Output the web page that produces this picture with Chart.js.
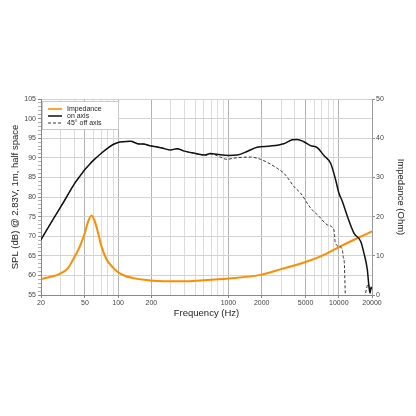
<!DOCTYPE html>
<html><head><meta charset="utf-8">
<script src="https://cdn.jsdelivr.net/npm/chart.js@4.4.1/dist/chart.umd.min.js"></script>
<style>html,body{margin:0;padding:0;background:#fff;}canvas{display:block;}</style>
</head><body>
<canvas id="c" width="416" height="416"></canvas>
<script>
const xGridValues = [20,30,40,50,60,70,80,90,100,200,300,400,500,600,700,800,900,1000,2000,3000,4000,5000,6000,7000,8000,9000,10000,20000];
const xTickLabels = [20,50,100,200,1000,2000,5000,10000,20000];
const splTickLabels = [55,60,65,70,75,80,85,90,95,100,105];
const ohmTickLabels = [0,10,20,30,40,50];
const seriesNames = ['Impedance','on axis','45° off axis'];

const impFreq = [20,25,29.6,35,39,45,49.9,53.5,57.4,61.5,65.9,70.6,78.9,90,97.9,115,137,180,224,300,400,554,1000,2000,3000,5000,7000,10000,15000,20000];
const impOhm  = [4.1,4.7,5.4,6.8,9.0,12.4,15.8,18.8,20.3,18.8,15.8,12.4,9.0,7.0,6.0,4.9,4.3,3.8,3.6,3.5,3.5,3.7,4.2,5.2,6.6,8.4,10.0,12.2,14.6,16.2];

const onFreq = [20,25,33,40,45,50,55,60,70,80,90,100,110,130,150,170,194,250,296,340,400,482,615,684,787,1000,1194,1472,1816,2399,3170,3780,4190,4820,5550,6380,7330,8430,9360,10020,10760,11950,13720,15770,16900,18130,18770,19200,19600,20000];
const onSpl  = [69.1,73.7,79.3,83.3,85.3,87.0,88.3,89.4,91.1,92.4,93.4,93.9,94.1,94.2,93.6,93.5,93.1,92.5,92.0,92.3,91.7,91.2,90.7,91.1,90.9,90.6,90.7,91.6,92.7,93.0,93.6,94.6,94.7,94.1,93.1,92.6,90.6,88.6,84.4,81.0,78.9,75.1,70.8,68.7,65.7,61.5,57.2,55.5,57.0,56.5];

const offFreq = [20,25,33,40,45,50,55,60,70,80,90,100,110,130,150,170,194,250,296,340,400,482,615,684,730,843,970,1112,1300,1577,1955,2399,2800,3170,3500,3910,4500,5550,6600,7860,9030,9150,9250,10020,10760,11000,11200,11450,11550,14000,16900,17500,18500,19000];
const offSpl  = [69.1,73.7,79.3,83.3,85.3,87.0,88.3,89.4,91.1,92.4,93.4,93.9,94.1,94.2,93.6,93.5,93.1,92.5,92.0,92.3,91.7,91.2,90.7,91.0,90.9,90.2,89.6,89.9,90.1,90.2,89.6,88.4,87.2,86.1,84.6,82.7,81.0,77.2,75.1,72.9,71.6,70.5,68.7,67.4,66.6,64.5,63.5,55,50,null,53,55.5,57.8,56.5];

const FONT = 'Liberation Sans, Arial, sans-serif';
const toPts = (xs, ys) => xs.map((x, i) => ({x: x, y: ys[i]}));

const boxLegend = {
  id: 'boxLegend',
  afterDatasetsDraw(chart) {
    const ctx = chart.ctx, a = chart.chartArea;
    const x0 = a.left + 1, y0 = a.top + 2, w = 76, h = 28;
    ctx.save();
    ctx.fillStyle = '#fff';
    ctx.fillRect(x0, y0, w, h);
    ctx.strokeStyle = '#c8c8c8';
    ctx.lineWidth = 1;
    ctx.strokeRect(x0 + 0.5, y0 + 0.5, w, h);
    chart.data.datasets.forEach((ds, i) => {
      const y = y0 + 8 + i * 7;
      ctx.strokeStyle = ds.borderColor;
      ctx.lineWidth = Math.min(ds.borderWidth, 1.6);
      ctx.setLineDash(ds.borderDash || []);
      ctx.beginPath(); ctx.moveTo(x0 + 6, y); ctx.lineTo(x0 + 20, y); ctx.stroke();
      ctx.setLineDash([]);
      ctx.fillStyle = '#222';
      ctx.font = '7px ' + FONT;
      ctx.textBaseline = 'middle';
      ctx.fillText(ds.label, x0 + 25, y + 0.5);
    });
    ctx.restore();
  }
};

new Chart(document.getElementById('c'), {
  type: 'line',
  data: { datasets: [
    { label: seriesNames[0], data: toPts(impFreq, impOhm), yAxisID: 'y2', order: 3,
      borderColor: '#ff8c00', borderWidth: 2, pointRadius: 0, cubicInterpolationMode: 'monotone' },
    { label: seriesNames[1], data: toPts(onFreq, onSpl), yAxisID: 'y', order: 1,
      borderColor: '#111111', borderWidth: 1.5, pointRadius: 0, cubicInterpolationMode: 'monotone' },
    { label: seriesNames[2], data: toPts(offFreq, offSpl), yAxisID: 'y', order: 2, spanGaps: false,
      borderColor: '#333333', borderWidth: 1, borderDash: [3, 2], pointRadius: 0, cubicInterpolationMode: 'monotone' }
  ]},
  options: {
    responsive: false, animation: false, devicePixelRatio: 1,
    layout: { padding: { top: 99, left: 0, right: 0, bottom: 0 } },
    plugins: { legend: { display: false }, tooltip: { enabled: false } },
    scales: {
      x: {
        type: 'logarithmic', min: 20, max: 20000,
        afterBuildTicks: s => { s.ticks = xGridValues.map(v => ({ value: v })); },
        afterFit: s => { s.height = 121; },
        ticks: { autoSkip: false, maxRotation: 0, minRotation: 0, padding: 1, color: '#444',
          font: { family: FONT, size: 7 },
          callback: v => xTickLabels.includes(v) ? String(v) : '' },
        grid: {
          tickLength: 3,
          color: c => { const v = c.tick ? c.tick.value : 0; if (v === 20 || v === 20000) return 'rgba(0,0,0,0)'; return xTickLabels.includes(v) ? '#b2b2b2' : '#dcdcdc'; },
          tickColor: c => (c.tick && xTickLabels.includes(c.tick.value)) ? '#888' : 'rgba(0,0,0,0)'
        },
        border: { color: '#888', width: 1 },
        title: { display: true, text: 'Frequency (Hz)', color: '#222', font: { family: FONT, size: 9.5 }, padding: { top: 97, bottom: 97 } }
      },
      y: {
        position: 'left', min: 55, max: 105,
        afterFit: s => { s.width = 41; },
        ticks: { stepSize: 1, autoSkip: false, padding: 2, color: '#444', font: { family: FONT, size: 7 },
          callback: v => splTickLabels.includes(v) ? String(v) : '' },
        grid: { tickLength: 3,
          color: c => (c.tick && splTickLabels.includes(c.tick.value) && c.tick.value !== 55) ? '#d2d2d2' : 'rgba(0,0,0,0)',
          tickColor: c => (c.tick && splTickLabels.includes(c.tick.value)) ? '#888' : '#b0b0b0' },
        border: { color: '#888', width: 1 },
        title: { display: true, text: 'SPL (dB) @ 2.83V, 1m, half space', color: '#222', font: { family: FONT, size: 9.5 }, padding: { top: 10, bottom: 0 } }
      },
      y2: {
        position: 'right', min: 0, max: 50,
        afterFit: s => { s.width = 44; },
        ticks: { stepSize: 1, autoSkip: false, padding: 1, color: '#444', font: { family: FONT, size: 7 },
          callback: v => ohmTickLabels.includes(v) ? String(v) : '' },
        grid: { drawOnChartArea: false, tickLength: 3,
          color: c => (c.tick && ohmTickLabels.includes(c.tick.value)) ? '#888' : '#b0b0b0',
          tickColor: c => (c.tick && ohmTickLabels.includes(c.tick.value)) ? '#888' : 'rgba(0,0,0,0)' },
        border: { color: '#999', width: 1, dash: [2, 2] },
        title: { display: true, text: 'Impedance (Ohm)', color: '#222', font: { family: FONT, size: 9.5 }, padding: { top: 10, bottom: 0 } }
      }
    }
  },
  plugins: [boxLegend]
});
</script>
</body></html>
